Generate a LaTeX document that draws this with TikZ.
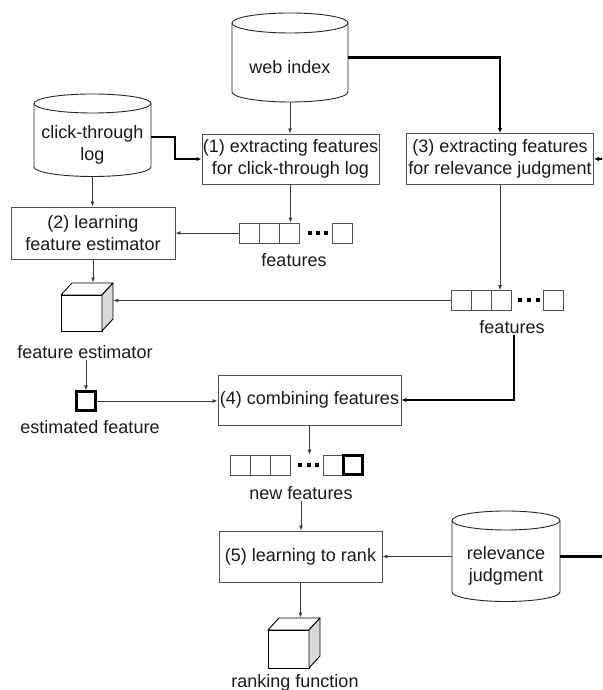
\documentclass[tikz,border=0pt]{standalone}
\usepackage{fontspec}
\setmainfont{Liberation Sans}
\usetikzlibrary{arrows.meta,calc}
\definecolor{ink}{HTML}{1A1A1A}
\definecolor{wire}{HTML}{3A3A3A}
\definecolor{frame}{HTML}{505050}
\definecolor{cubeside}{HTML}{D9D9D9}

% database drum: name, centre x, top-ellipse y, bottom-ellipse y, x radius, y radius, text
\newcommand{\dbdrum}[7]{%
  \filldraw[drum, fill=white] (#2-#5,#3) -- (#2-#5,#4)
    arc[start angle=180,end angle=360,x radius=#5,y radius=#6] -- (#2+#5,#3)
    arc[start angle=0,end angle=180,x radius=#5,y radius=#6] -- cycle;
  \draw[drum] (#2-#5,#3) arc[start angle=180,end angle=360,x radius=#5,y radius=#6];
  \node[lbl, inner sep=0pt, minimum width=2*#5pt, minimum height=#3pt-#4pt]
    (#1) at (#2,{(#3+#4)/2-#6}) {#7};
}
% model cube: name, front-face left x, front-face bottom y, width, height
\newcommand{\cubebox}[5]{%
  \draw[cubeedge, fill=white] (#2,#3) rectangle ++(#4,#5);
  \draw[cubeedge, fill=white] (#2,#3+#5) -- ++(11,12) -- ++(#4,0) -- ++(-11,-12) -- cycle;
  \draw[cubeedge, fill=cubeside] (#2+#4,#3) -- ++(11,12) -- ++(0,#5) -- ++(-11,-12) -- cycle;
  \node[inner sep=0pt, minimum width=#4pt+11pt, minimum height=#5pt+12pt, anchor=south west]
    (#1) at (#2,#3) {};
}

\begin{document}
\begin{tikzpicture}[x=1pt,y=1pt,
  font=\fontsize{18}{22}\selectfont, text=ink,
  stagebox/.style={draw=frame, line width=0.9pt, fill=white, align=center, inner sep=1pt},
  cell/.style={draw=frame, line width=0.8pt, minimum size=20pt, inner sep=0pt},
  keycell/.style={draw=black, line width=2.2pt, minimum size=19pt, inner sep=0pt},
  flow/.style={draw=wire, line width=0.9pt, -{Latex[length=5pt,width=4pt]}},
  mainflow/.style={draw=black, line width=2.2pt, -{Latex[length=5pt,width=4.5pt]}},
  drum/.style={draw=black!85, line width=0.9pt},
  cubeedge/.style={draw=black, line width=0.9pt, line join=round},
  lbl/.style={inner sep=1pt, align=center}]

\useasboundingbox (0,0) rectangle (602,690);
\clip (0,0) rectangle (602,690);

% data sources
\dbdrum{web}{290}{667}{598}{58}{10}{web index}
\dbdrum{click}{92.5}{586.5}{523}{58.5}{9.5}{click-through\\log}
\dbdrum{rel}{506}{169.5}{98}{54}{9.5}{relevance\\judgment}

% processing stages
\node[stagebox, minimum width=177pt, minimum height=50pt] (ext1) at (290.5,531)
  {(1) extracting features\\for click-through log};
\node[stagebox, minimum width=164pt, minimum height=52pt] (learn) at (93,457)
  {(2) learning\\feature estimator};
\node[stagebox, minimum width=187pt, minimum height=51pt] (ext3) at (500,531)
  {(3) extracting features\\for relevance judgment};
\node[stagebox, minimum width=183pt, minimum height=50pt] (comb) at (309.5,290)
  {(4) combining features};
\node[stagebox, minimum width=163pt, minimum height=51pt] (rank) at (300.5,133.5)
  {(5) learning to rank};

% feature vectors
\node[cell] (fa1) at (249,457) {};
\node[cell] (fa2) at (269,457) {};
\node[cell] (fa3) at (289,457) {};
\node[cell] (fa4) at (342,457) {};
\foreach \dx in {310,318,326} \fill[black] (\dx-2,455) rectangle ++(4,4);

\node[cell] (fb1) at (461,389.5) {};
\node[cell] (fb2) at (481,389.5) {};
\node[cell] (fb3) at (501,389.5) {};
\node[cell] (fb4) at (553,389.5) {};
\foreach \dx in {520,529,538} \fill[black] (\dx-2,387.5) rectangle ++(4,4);

\node[cell] (fc1) at (240,225) {};
\node[cell] (fc2) at (260,225) {};
\node[cell] (fc3) at (280,225) {};
\foreach \dx in {300,308.5,317} \fill[black] (\dx-2,223) rectangle ++(4,4);
\node[cell] (fc4) at (333,225) {};
\node[keycell] (fc5) at (353,225) {};

\node[keycell] (est) at (86,289) {};

% learned models
\cubebox{fecube}{61}{359}{41}{36}
\cubebox{rkcube}{268}{22}{41}{38}

% captions
\node[lbl] (fa) at (294,430) {features};
\node[lbl] (fb) at (512,363) {features};
\node[lbl] (fel) at (85,338) {feature estimator};
\node[lbl] (estl) at (90,263) {estimated feature};
\node[lbl] (nfl) at (301,197) {new features};
\node[lbl] (rfl) at (295,7) {ranking function};

% connectors
\draw[flow] (web.south) -- (web.south |- ext1.north);
\draw[mainflow] ([yshift=10pt]web.east) -| (ext3.north);
\draw[mainflow] ([yshift=8pt]click.east) -- ++(24,0) |- (ext1.west);
\draw[flow] (click.south) -- (click.south |- learn.north);
\draw[flow] (ext1.south) -- (ext1.south |- fa3.north);
\draw[flow] (fa1.west) -- (fa1.west -| learn.east);
\draw[flow] (learn.south) -- (learn.south |- fecube.north);
\draw[flow] (ext3.south) -- (ext3.south |- fb3.north);
\draw[flow] (fb1.west) -- (fb1.west -| fecube.east);
\draw[flow] (fel.south -| est.north) -- (est.north);
\draw[flow] (est.east) -- (est.east -| comb.west);
\draw[mainflow] ([xshift=2pt]fb.south) |- (comb.east);
\draw[flow] (comb.south) -- (comb.south |- fc1.north);
\draw[flow] (nfl.south) -- (nfl.south |- rank.north);
\draw[flow] (rank.east -| rel.west) -- (rank.east);
\draw[mainflow] (rank.east -| rel.east) -- ++(60,0) |- (ext3.east);
\draw[flow] (rank.south) -- (rank.south |- rkcube.north);
\end{tikzpicture}
\end{document}
